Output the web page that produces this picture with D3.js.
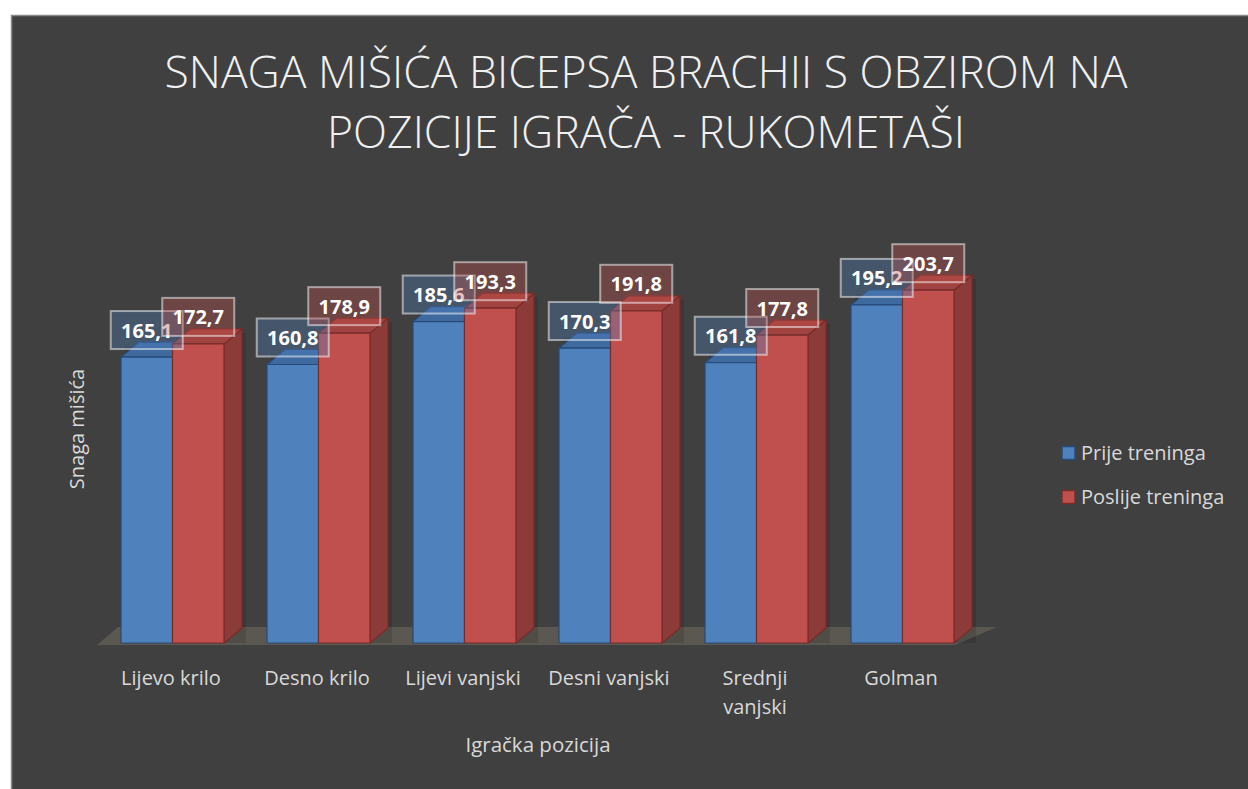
<!DOCTYPE html>
<html lang="hr">
<head>
<meta charset="UTF-8">
<title>Snaga mišića bicepsa</title>
<script src="https://d3js.org/d3.v7.min.js"></script>
<style>
  html, body { margin: 0; padding: 0; background: #ffffff; }
  svg { display: block; }
  text { font-family: "Open Sans", "Noto Sans", sans-serif; }
</style>
</head>
<body>
<div id="chart"></div>
<script>
const categories = ["Lijevo krilo", "Desno krilo", "Lijevi vanjski", "Desni vanjski", "Srednji vanjski", "Golman"];
const categoryLines = [["Lijevo krilo"], ["Desno krilo"], ["Lijevi vanjski"], ["Desni vanjski"], ["Srednji", "vanjski"], ["Golman"]];
const prije = [165.1, 160.8, 185.6, 170.3, 161.8, 195.2];
const poslije = [172.7, 178.9, 193.3, 191.8, 177.8, 203.7];
const seriesNames = ["Prije treninga", "Poslije treninga"];

const W = 1248, H = 789;
const svg = d3.select("#chart").append("svg").attr("width", W).attr("height", H);

// chart area background
svg.append("rect")
  .attr("x", 11.5).attr("y", 15.5).attr("width", W).attr("height", H)
  .attr("fill", "#404040").attr("stroke", "#8a8a8a").attr("stroke-width", 1.5);

// title
const title = svg.append("text")
  .attr("text-anchor", "middle").attr("fill", "#f0f0f0")
  .attr("font-size", 44.5).attr("font-weight", 300);
title.append("tspan").attr("x", 646).attr("y", 88).text("SNAGA MIŠIĆA BICEPSA BRACHII S OBZIROM NA");
title.append("tspan").attr("x", 646).attr("y", 148).text("POZICIJE IGRAČA - RUKOMETAŠI");

// scales
const x = d3.scaleBand().domain(categories).range([97, 973]).paddingInner(0).paddingOuter(0);
const y = d3.scaleLinear().domain([0, 250]).range([643, 210]);
const barW = 51.5;
const dx = 18, dy = 15;

// floor
svg.append("path")
  .attr("d", d3.line()([[97, 645], [955, 645], [997, 627], [118, 627]]) + "Z")
  .attr("fill", "#5a5850");

const colors = [
  { front: "#4f81bd", top: "#3f6aa0", side: "#385d8a", edge: "#274a78", box: "rgba(79,129,189,0.35)" },
  { front: "#c0504d", top: "#a14340", side: "#8c3b39", edge: "#772c2a", box: "rgba(192,80,77,0.35)" }
];

const bars = svg.append("g");
const labels = svg.append("g");

categories.forEach((c, i) => {
  [prije[i], poslije[i]].forEach((v, s) => {
    const col = colors[s];
    const x0 = x(c) + 24 + s * barW, x1 = x0 + barW;
    const yt = y(v), yb = y(0);
    const g = bars.append("g").attr("stroke", col.edge).attr("stroke-width", 1.2).attr("stroke-linejoin", "round");
    // shadow
    g.append("rect").attr("x", x0 + 4).attr("y", yt - dy + 4).attr("width", barW + dx).attr("height", yb - yt + dy - 4)
      .attr("fill", "rgba(0,0,0,0.12)").attr("stroke", "none");
    g.append("path").attr("fill", col.side)
      .attr("d", d3.line()([[x1, yt], [x1 + dx, yt - dy], [x1 + dx, yb - dy], [x1, yb]]) + "Z");
    g.append("path").attr("fill", col.top)
      .attr("d", d3.line()([[x0, yt], [x0 + dx, yt - dy], [x1 + dx, yt - dy], [x1, yt]]) + "Z");
    g.append("rect").attr("x", x0).attr("y", yt).attr("width", barW).attr("height", yb - yt)
      .attr("fill", col.front);

    // data label
    const cx = x0 + barW / 2, cy = yt - 27;
    labels.append("rect")
      .attr("x", cx - 36).attr("y", cy - 19).attr("width", 72).attr("height", 38)
      .attr("fill", col.box).attr("stroke", "rgba(255,255,255,0.5)").attr("stroke-width", 2);
    labels.append("text")
      .attr("x", cx).attr("y", cy + 7.5).attr("text-anchor", "middle")
      .attr("fill", "#ffffff").attr("font-size", 20).attr("font-weight", 700)
      .text(d3.format(".1f")(v).replace(".", ","));
  });
});

// category labels
categoryLines.forEach((lines, i) => {
  const t = svg.append("text").attr("text-anchor", "middle").attr("fill", "#d9d9d9").attr("font-size", 20);
  lines.forEach((ln, k) => {
    t.append("tspan").attr("x", x(categories[i]) + x.bandwidth() / 2 + 1).attr("y", 685 + k * 29).text(ln);
  });
});

// axis titles
svg.append("text").attr("x", 538).attr("y", 752).attr("text-anchor", "middle")
  .attr("fill", "#d9d9d9").attr("font-size", 20.5).text("Igračka pozicija");
svg.append("text").attr("transform", "translate(84,429) rotate(-90)").attr("text-anchor", "middle")
  .attr("fill", "#d9d9d9").attr("font-size", 20).text("Snaga mišića");

// legend
const legend = svg.append("g");
seriesNames.forEach((n, s) => {
  const ly = 453 + s * 44;
  legend.append("rect").attr("x", 1062).attr("y", ly - 6.5).attr("width", 13).attr("height", 13)
    .attr("fill", colors[s].front).attr("stroke", colors[s].edge).attr("stroke-width", 1.5);
  legend.append("text").attr("x", 1081).attr("y", ly + 7).attr("fill", "#d9d9d9")
    .attr("font-size", 20).text(n);
});
</script>
</body>
</html>
